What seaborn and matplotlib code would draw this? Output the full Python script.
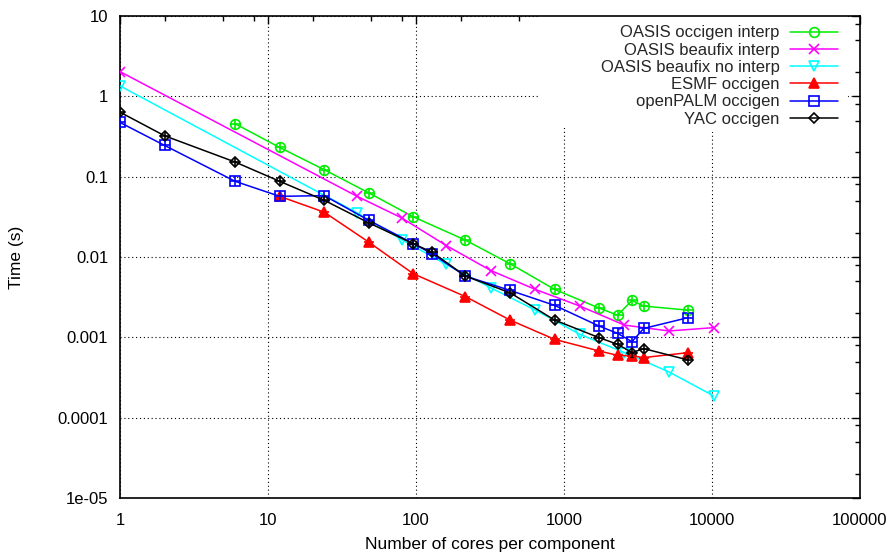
import numpy as np
import pandas as pd
import matplotlib
matplotlib.use("Agg")
import matplotlib.pyplot as plt
import seaborn as sns
from matplotlib.patches import Rectangle
from matplotlib.ticker import FixedLocator, FixedFormatter, LogLocator, NullFormatter

# ---------------- data ----------------
series_names = ["OASIS occigen interp", "OASIS beaufix interp", "OASIS beaufix no interp",
                "ESMF occigen", "openPALM occigen", "YAC occigen"]

green_x = [6, 12, 24, 48, 96, 216, 432, 864, 1728, 2304, 2880, 3456, 6912]
green_y = [0.455, 0.231, 0.122, 0.0628, 0.0316, 0.0162, 0.00824, 0.00395, 0.00231,
           0.00189, 0.00288, 0.00245, 0.00218]

magenta_x = [1, 40, 80, 160, 320, 640, 1280, 2560, 5120, 10240]
magenta_y = [2.03, 0.0569, 0.0307, 0.0139, 0.00679, 0.00395, 0.00245, 0.00142, 0.0012, 0.00132]

cyan_x = [1, 40, 80, 160, 320, 640, 1280, 2560, 5120, 10240]
cyan_y = [1.35, 0.0354, 0.0165, 0.00807, 0.00414, 0.00218, 0.00109, 0.000645, 0.000371, 0.000187]

red_x = [12, 24, 48, 96, 216, 432, 864, 1728, 2304, 2880, 3456, 6912]
red_y = [0.0569, 0.0361, 0.0153, 0.00618, 0.00321, 0.00164, 0.000944, 0.000676,
         0.000597, 0.000586, 0.00056, 0.000645]

blue_x = [1, 2, 6, 12, 24, 48, 96, 128, 216, 432, 864, 1728, 2304, 2880, 3456, 6912]
blue_y = [0.473, 0.245, 0.0875, 0.0569, 0.0581, 0.0286, 0.0147, 0.011, 0.00578, 0.00384,
          0.0025, 0.00138, 0.00112, 0.000883, 0.00129, 0.00176]

black_x = [1, 2, 6, 12, 24, 48, 96, 128, 216, 432, 864, 1728, 2304, 2880, 3456, 6912]
black_y = [0.635, 0.323, 0.152, 0.0875, 0.0508, 0.0266, 0.0146, 0.0115, 0.00578, 0.00359,
           0.00164, 0.00099, 0.000819, 0.000645, 0.000724, 0.000522]

x_ticks = [1, 10, 100, 1000, 10000, 100000]
x_tick_labels = ["1", "10", "100", "1000", "10000", "100000"]
y_ticks = [1e-5, 1e-4, 1e-3, 1e-2, 1e-1, 1, 10]
y_tick_labels = ["1e-05", "0.0001", "0.001", "0.01", "0.1", "1", "10"]

# ---------------- style ----------------
sns.set_theme(style="white")
plt.rcParams["font.family"] = ["Liberation Sans", "DejaVu Sans"]
plt.rcParams["xtick.direction"] = "in"
plt.rcParams["ytick.direction"] = "in"

colors = ["#00ee00", "#ff00ff", "#00ffff", "#ff0000", "#0000ff", "#000000"]
markers = ["o", "x", "v", "^", "s", "D"]
msizes = [7, 7, 7, 7, 7, 5]
faces = ["none", "none", "none", "#ff0000", "none", "none"]
plus_overlay = [True, False, False, True, True, True]
xs = [green_x, magenta_x, cyan_x, red_x, blue_x, black_x]
ys = [green_y, magenta_y, cyan_y, red_y, blue_y, black_y]

frames = []
for name, x, y in zip(series_names, xs, ys):
    frames.append(pd.DataFrame({"cores": x, "time": y, "series": name}))
df = pd.concat(frames, ignore_index=True)

fig = plt.figure(figsize=(8.92, 5.53), dpi=100)
ax = fig.add_axes([120 / 892, 1 - 498 / 553, 740 / 892, 482 / 553])

for i, name in enumerate(series_names):
    sub = df[df["series"] == name]
    sns.lineplot(data=sub, x="cores", y="time", ax=ax, color=colors[i], marker=markers[i],
                 markersize=msizes[i], markerfacecolor=faces[i], markeredgecolor=colors[i],
                 markeredgewidth=1.2, linewidth=1.1, label=name, sort=False,
                 estimator=None, zorder=3)
    if plus_overlay[i]:
        sns.scatterplot(data=sub, x="cores", y="time", ax=ax, color=colors[i], marker="+",
                        s=60, linewidth=1.2, legend=False, zorder=4)

ax.set_xscale("log")
ax.set_yscale("log")
ax.set_xlim(1, 100000)
ax.set_ylim(1e-5, 10)

ax.xaxis.set_major_locator(FixedLocator(x_ticks))
ax.xaxis.set_major_formatter(FixedFormatter(x_tick_labels))
ax.yaxis.set_major_locator(FixedLocator(y_ticks))
ax.yaxis.set_major_formatter(FixedFormatter(y_tick_labels))
ax.xaxis.set_minor_locator(LogLocator(base=10, subs=[2, 5, 8]))
ax.yaxis.set_minor_locator(LogLocator(base=10, subs=[2, 5, 8]))
ax.xaxis.set_minor_formatter(NullFormatter())
ax.yaxis.set_minor_formatter(NullFormatter())

ax.tick_params(which="both", direction="in", top=True, right=True, color="black",
               labelsize=12, labelcolor="black")
ax.tick_params(which="major", length=6, width=1)
ax.tick_params(which="minor", length=3.5, width=1)
ax.tick_params(axis="x", which="major", pad=10.5)
ax.tick_params(axis="y", which="major", pad=8.5)

ax.grid(which="major", linestyle=(0, (1, 2.5)), color="black", linewidth=0.8)
ax.set_axisbelow(True)
for sp in ax.spines.values():
    sp.set_color("black")
    sp.set_linewidth(1.2)

# opaque key area (hides the grid behind the legend)
ax.add_patch(Rectangle((0.5676, 0.7676), 0.4162, 0.2324, transform=ax.transAxes,
                       facecolor="white", edgecolor="none", zorder=1))

ax.set_xlabel("Number of cores per component", fontsize=12.5, color="black", labelpad=7)
ax.set_ylabel("Time (s)", fontsize=12.5, color="black", labelpad=24)

leg = ax.legend(loc="upper right", bbox_to_anchor=(0.977, 0.991), markerfirst=False,
                frameon=True, fontsize=12, handlelength=2.9, handletextpad=0.6,
                labelspacing=0.135, borderaxespad=0.0, borderpad=0.3, fancybox=False)
leg.get_frame().set_facecolor("white")
leg.get_frame().set_edgecolor("none")
leg.get_frame().set_alpha(1.0)
leg.set_zorder(10)

fig.savefig("out.png", dpi=100)
